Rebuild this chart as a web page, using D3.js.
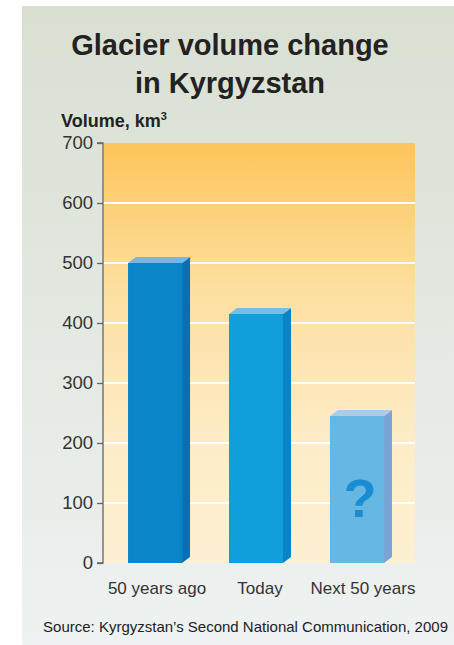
<!DOCTYPE html>
<html><head><meta charset="utf-8">
<script src="https://cdn.jsdelivr.net/npm/d3@7"></script>
<style>html,body{margin:0;padding:0;background:#fff;}svg{display:block;}</style>
</head><body>
<script>
const categories = ["50 years ago", "Today", "Next 50 years"];
const volumes = [500, 415, 245];
const yTicks = [0, 100, 200, 300, 400, 500, 600, 700];
const gridValues = [100, 200, 300, 400, 500, 600];
const titleLines = ["Glacier volume change", "in Kyrgyzstan"];
const yLabel = "Volume, km";
const source = "Source: Kyrgyzstan\u2019s Second National Communication, 2009";

const W = 454, H = 645;
const font = "'Liberation Sans', Arial, Helvetica, sans-serif";
const svg = d3.select("body").append("svg").attr("width", W).attr("height", H);
const defs = svg.append("defs");
const bg = defs.append("linearGradient").attr("id","bg").attr("x1",0).attr("y1",0).attr("x2",0).attr("y2",1);
bg.append("stop").attr("offset","0").attr("stop-color","#d9dfd1");
bg.append("stop").attr("offset","1").attr("stop-color","#eef2f2");
const pg = defs.append("linearGradient").attr("id","pg").attr("x1",0).attr("y1",0).attr("x2",0).attr("y2",1);
pg.append("stop").attr("offset","0").attr("stop-color","#fdc55a");
pg.append("stop").attr("offset","0.35").attr("stop-color","#fddfa0");
pg.append("stop").attr("offset","0.7").attr("stop-color","#fdecc6");
pg.append("stop").attr("offset","1").attr("stop-color","#fdf0d3");

svg.append("rect").attr("x",22).attr("y",6).attr("width",W-22).attr("height",H-6).attr("fill","url(#bg)");

const x = d3.scaleBand().domain(categories).range([105, 407]).paddingInner(0.465).paddingOuter(0.228);
const y = d3.scaleLinear().domain([0, 700]).range([563, 143]);
const plotL = 104, plotR = 415;

svg.append("rect").attr("x",plotL).attr("y",y(700)).attr("width",plotR-plotL).attr("height",y(0)-y(700)).attr("fill","url(#pg)");

svg.selectAll("line.grid").data(gridValues).enter().append("line")
  .attr("x1",plotL).attr("x2",plotR).attr("y1",d=>y(d)).attr("y2",d=>y(d))
  .attr("stroke","#ffffff").attr("stroke-width",2.2);

// axis
const axis = d3.axisLeft(y).tickValues(yTicks).tickSize(6).tickPadding(4).tickFormat(d3.format("d"));
const ag = svg.append("g").attr("transform",`translate(${plotL-1},0)`).call(axis);
ag.select(".domain").attr("stroke","#666").attr("stroke-width",1.3).attr("d",`M-6,${y(700)}H0V${y(0)}H-6`);
ag.selectAll(".tick line").attr("stroke","#666").attr("stroke-width",1.3);
ag.selectAll(".tick text").attr("font-family",font).attr("font-size",18.5).attr("fill","#333");

// bars
const dx = 8, dy = 6;
const colors = [
  {front:"#0a86c8", side:"#076fb6", top:"#79b4e6"},
  {front:"#0fa0dc", side:"#0a84c6", top:"#78bde8"},
  {front:"#67b7e4", side:"#79a5d6", top:"#a9cdee"}
];
const bars = svg.selectAll("g.bar").data(categories).enter().append("g");
bars.each(function(c, i){
  const g = d3.select(this);
  const x0 = x(c), x1 = x(c) + x.bandwidth(), t = y(volumes[i]), b = y(0);
  const col = colors[i];
  g.append("rect").attr("x",x0).attr("y",t).attr("width",x1-x0).attr("height",b-t).attr("fill",col.front);
  g.append("path").attr("d",`M${x1},${t}L${x1+dx},${t-dy}L${x1+dx},${b-dy}L${x1},${b}Z`).attr("fill",col.side);
  g.append("path").attr("d",`M${x0},${t}L${x0+dx},${t-dy}L${x1+dx},${t-dy}L${x1},${t}Z`).attr("fill",col.top);
});
// question mark on the last bar
const last = categories[2];
svg.append("text").attr("x", x(last) + x.bandwidth()/2 + 3).attr("y", 517)
  .attr("text-anchor","middle").attr("font-family",font).attr("font-weight","bold")
  .attr("font-size",54).attr("fill","#1a8dd0").text("?");

// x labels
svg.selectAll("text.xl").data(categories).enter().append("text")
  .attr("x", (d,i)=> x(d) + x.bandwidth()/2 + dx/2 - 2 + i*2)
  .attr("y", 594).attr("text-anchor","middle").attr("font-family",font)
  .attr("font-size",17).attr("fill","#333").text(d=>d);

// titles
svg.selectAll("text.title").data(titleLines).enter().append("text")
  .attr("x", 230).attr("y",(d,i)=> 55 + i*38).attr("text-anchor","middle")
  .attr("font-family",font).attr("font-weight","bold").attr("font-size",29).attr("fill","#222").text(d=>d);

const yl = svg.append("text").attr("x",61).attr("y",127).attr("font-family",font)
  .attr("font-weight","bold").attr("font-size",18).attr("fill","#222").text(yLabel);
yl.append("tspan").attr("font-size",11).attr("dy",-7).text("3");

svg.append("text").attr("x",448).attr("y",632).attr("text-anchor","end").attr("font-family",font)
  .attr("font-size",15).attr("fill","#222").text(source);
</script>
</body></html>
